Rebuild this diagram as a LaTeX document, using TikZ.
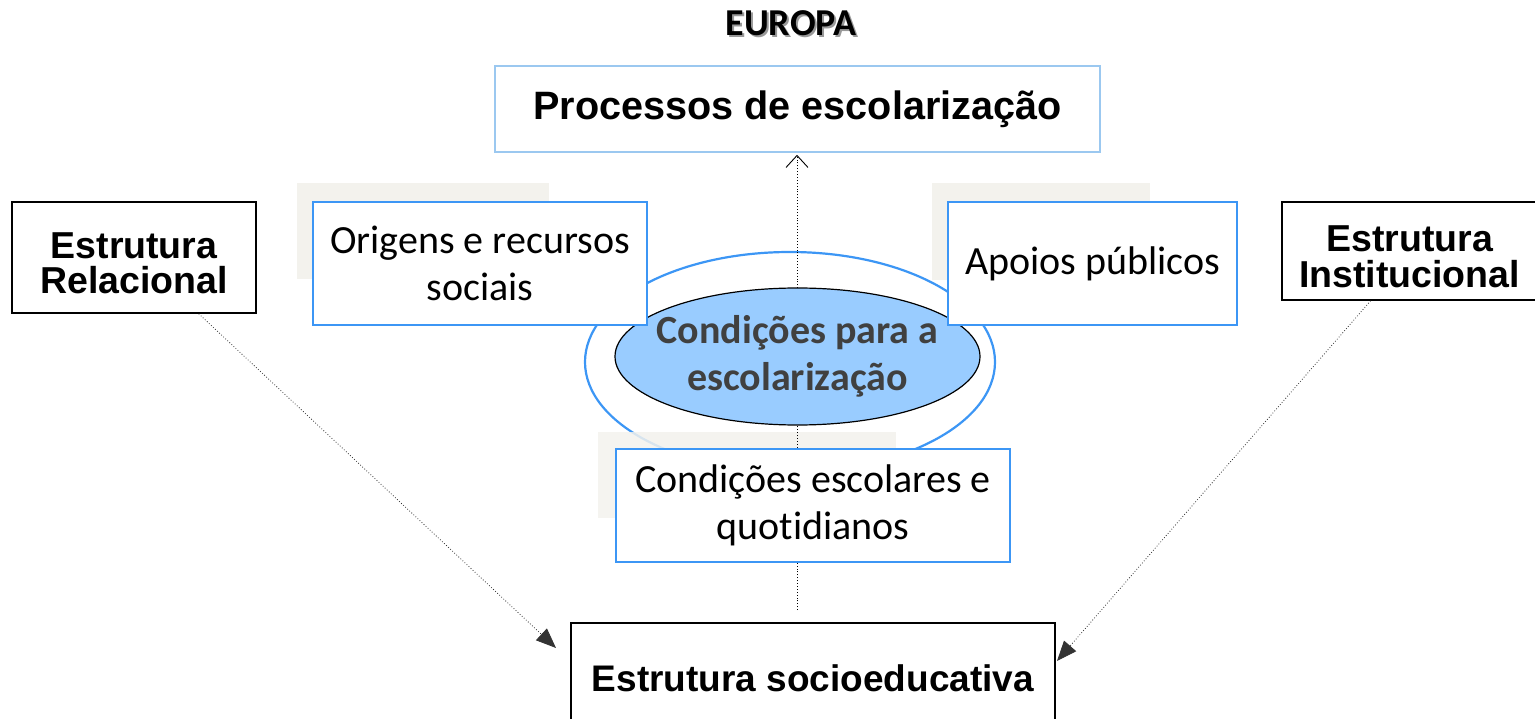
\documentclass[tikz,border=0pt]{standalone}
\usepackage{fontspec}
\setmainfont{Carlito}[Ligatures=NoCommon]
\newfontfamily\arial{Liberation Sans}
\usetikzlibrary{shapes.geometric,arrows.meta}
\definecolor{azulcaixa}{RGB}{60,150,245}
\definecolor{azulclaro}{RGB}{155,200,240}
\definecolor{azulnucleo}{RGB}{153,204,255}
\definecolor{cinzasombra}{RGB}{243,242,237}
\definecolor{cinzatexto}{RGB}{64,64,64}

\begin{document}
\begin{tikzpicture}[x=1pt,y=-1pt,
    caixa/.style={draw=azulcaixa, line width=1.6pt, fill=white, align=center, inner sep=0pt,
      font=\fontsize{40}{47}\selectfont},
    estrutura/.style={draw=black, line width=1.6pt, fill=white, align=center, inner sep=0pt,
      font=\arial\bfseries\fontsize{37.5}{35.5}\selectfont},
    sombra/.style={fill=cinzasombra},
    seta/.style={dotted, line width=0.8pt, draw=black!80, -{Triangle[length=20pt,width=16pt]}}]
	%Area do desenho
	\useasboundingbox (0,0) rectangle (1535,719);
	\clip (0,0) rectangle (1535,719);
		%Sombras das caixas
	\fill[sombra] (297,183) rectangle (549,279);
	\fill[sombra] (932,183) rectangle (1150,280);
		%Anel exterior
	\node[ellipse, draw=azulcaixa, line width=2.2pt, fill=white, minimum width=410pt, minimum height=220pt] (anel) at (790,362) {};
	\fill[sombra, fill opacity=0.85] (598,432) rectangle (896,518);
		%Titulo
	\node[text=black!40, font=\bfseries\fontsize{38}{38}\selectfont] (europasombra) at (793,25) {EUROPA};
	\node[font=\bfseries\fontsize{38}{38}\selectfont] (europa) at (791,23) {EUROPA};
	\node[draw=azulclaro, line width=1.6pt, fill=white, minimum width=605pt, minimum height=86pt,
	  font=\arial\bfseries\fontsize{39.6}{39.6}\selectfont] (processos) at (797.5,109) {Processos de escolarização};
		%Seta vertical
	\coordinate (base) at (797,610);
	\draw[dotted, line width=0.9pt, -{Straight Barb[length=12pt,width=22pt]}, shorten >=2pt] (base) -- (processos.south -| base);
		%Nucleo
	\node[ellipse, draw=black, line width=1.2pt, fill=azulnucleo, minimum width=365pt, minimum height=137pt, inner sep=0pt] (nucleo) at (797.5,356.5) {};
	\node[text=cinzatexto, align=center, inner sep=0pt, font=\bfseries\fontsize{40}{47}\selectfont] (nucleotexto) at (nucleo.center) {Condições para a\\escolarização};
		%Caixas azuis
	\node[caixa, minimum width=334pt, minimum height=123pt] (origens) at (480,263.5) {Origens e recursos\\sociais};
	\node[caixa, minimum width=289pt, minimum height=123pt] (apoios) at (1092.5,263.5) {Apoios públicos};
	\node[caixa, minimum width=394pt, minimum height=113pt] (escolares) at (813,505.5) {Condições escolares e\\quotidianos};
		%Estruturas
	\node[estrutura, minimum width=244pt, minimum height=111pt, text height=73pt] (relacional) at (134,257.5) {Estrutura\\Relacional};
	\node[estrutura, minimum width=255pt, minimum height=98pt, text height=73pt] (institucional) at (1409.5,251) {Estrutura\\Institucional};
	\node[estrutura, minimum width=484pt, minimum height=110pt, font=\arial\bfseries\fontsize{37}{37}\selectfont] (socio) at (813,678) {Estrutura socioeducativa};
		%Setas diagonais
	\coordinate (fimrel) at (556,648);
	\coordinate (fimins) at (1057,661);
	\draw[seta] (relacional.-41.4) -- (fimrel);
	\draw[seta] (institucional.-128.9) -- (fimins);
\end{tikzpicture}
\end{document}
